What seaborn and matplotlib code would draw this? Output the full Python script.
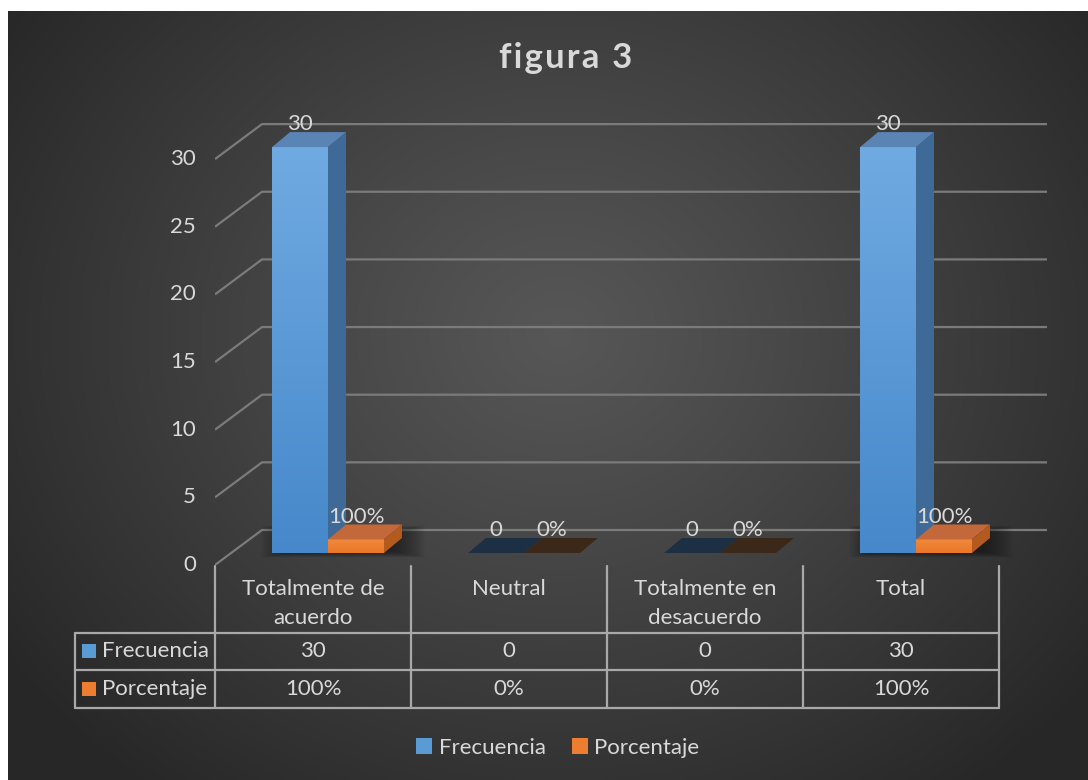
import numpy as np
import pandas as pd
import matplotlib
matplotlib.use("Agg")
import matplotlib.pyplot as plt
import seaborn as sns
from matplotlib.patches import Polygon, Rectangle, Patch
from matplotlib.lines import Line2D
import matplotlib.transforms as mtransforms

# ---------------- data ----------------
categorias = ["Totalmente de acuerdo", "Neutral", "Totalmente en desacuerdo", "Total"]
etiquetas_tabla = ["Totalmente de\nacuerdo", "Neutral", "Totalmente en\ndesacuerdo", "Total"]
series = ["Frecuencia", "Porcentaje"]
frecuencia = [30, 0, 0, 30]
porcentaje = [1.0, 0.0, 0.0, 1.0]
y_ticks = [0, 5, 10, 15, 20, 25, 30]
titulo = "figura 3"

colores = {"Frecuencia": "#5b9bd5", "Porcentaje": "#ed7d31"}
TXT = "#d9d9d9"
FS = 16

df = pd.DataFrame({
    "categoria": categorias * 2,
    "serie": [series[0]] * 4 + [series[1]] * 4,
    "valor": frecuencia + porcentaje,
})
etiq_frec = [f"{v:g}" for v in frecuencia]
etiq_porc = [f"{v:.0%}" for v in porcentaje]

sns.set_theme(style="dark")
plt.rcParams['font.family'] = ['Lato', 'DejaVu Sans']

W, H = 1088, 780
fig = plt.figure(figsize=(W / 100, H / 100), dpi=100, facecolor="white")

# pixel transform (origin top-left)
tpx = mtransforms.Affine2D().scale(1 / W, -1 / H).translate(0, 1) + fig.transFigure

# ---------------- background (radial gradient) ----------------
bg = fig.add_axes([8 / W, 0, 1 - 8 / W, 1 - 11 / H])
bg.set_axis_off()
gx, gy = np.meshgrid(np.linspace(0, 1, 400), np.linspace(0, 1, 300))
r = np.sqrt(((gx - 0.51) / 0.62) ** 2 + ((gy - 0.42) / 0.75) ** 2)
t = np.clip(r, 0, 1) ** 1.1
c_in, c_out = 0.34, 0.155
val = c_in * (1 - t) + c_out * t
img = np.dstack([val, val, val])
bg.imshow(img, extent=[0, 1, 0, 1], aspect="auto", origin="upper")
bg.set_xlim(0, 1)
bg.set_ylim(0, 1)

# ---------------- main axes ----------------
# data mapping: px_x = 328 + 196*x ; px_y = 553 - 13.53*y
PXU = 196.0
PYU = 13.53
X0, Y0 = 328.0, 553.0
def dx(px):
    return (px - X0) / PXU
def dy(py):
    return (Y0 - py) / PYU

ax = fig.add_axes([215 / W, 1 - 565 / H, (1047 - 215) / W, (565 - 100) / H])
ax.patch.set_alpha(0)

sns.barplot(data=df, x="categoria", y="valor", hue="serie", palette=colores,
            width=0.571, dodge=True, ax=ax, legend=False, saturation=1,
            linewidth=0, errorbar=None)

# wall / floor gridlines
front_shift = dy(565)      # front plane zero
back_shift = dy(530)       # back wall zero
x_front = dx(215)
x_back = dx(262)
x_right = dx(1047)
for v in y_ticks:
    ax.plot([x_front, x_back, x_right], [v + front_shift, v + back_shift, v + back_shift],
            color="#7b7b7b", lw=1.6, zorder=1, solid_capstyle="butt")
    ax.text(dx(196), v + front_shift, f"{v}", ha="right", va="center",
            color=TXT, fontsize=FS, clip_on=False)

# 3D faces
ddx = 18 / PXU
ddy = 15 / PYU
face = {
    "Frecuencia": dict(top="#5a84b4", side="#3f6996", zero="#1d2f42",
                       grad=("#70aae2", "#4688ca"), z=3),
    "Porcentaje": dict(top="#c3683a", side="#b45a1e", zero="#3c2818",
                       grad=("#f08a3e", "#ea7627"), z=4),
}
patches = list(ax.patches)
labels_all = etiq_frec + etiq_porc

# soft floor shadows beneath groups with visible bars
for i in range(len(categorias)):
    pb, po = patches[i], patches[i + 4]
    if pb.get_height() > 0 or po.get_height() > 0:
        xl = pb.get_x() - 0.06
        xr = po.get_x() + po.get_width() + ddx + 0.12
        sx, sy = np.meshgrid(np.linspace(-1, 1, 120), np.linspace(-1, 1, 40))
        a = np.clip(1 - np.maximum(np.abs(sx), np.abs(sy)) ** 3, 0, 1) * 0.6
        simg = np.zeros((40, 120, 4))
        simg[..., 3] = a
        ax.imshow(simg, extent=[xl, xr, -0.4, ddy + 0.9], aspect="auto", zorder=2)

for k, p in enumerate(patches):
    s = series[0] if k < 4 else series[1]
    f = face[s]
    x, w, h = p.get_x(), p.get_width(), p.get_height()
    p.set_zorder(f["z"])
    if h > 0:
        grad = np.linspace(0, 1, 100)[:, None]
        c1 = np.array(matplotlib.colors.to_rgb(f["grad"][0]))
        c2 = np.array(matplotlib.colors.to_rgb(f["grad"][1]))
        gimg = c1[None, None, :] * (1 - grad[..., None]) + c2[None, None, :] * grad[..., None]
        gimg = np.repeat(gimg, 2, axis=1)
        ax.imshow(gimg, extent=[x, x + w, 0, h], aspect="auto", origin="upper",
                  zorder=f["z"] + 0.01)
        side = Polygon([(x + w, 0), (x + w + ddx, ddy), (x + w + ddx, h + ddy), (x + w, h)],
                       closed=True, facecolor=f["side"], edgecolor="none", zorder=f["z"])
        ax.add_patch(side)
        topc = f["top"]
    else:
        topc = f["zero"]
    top = Polygon([(x, h), (x + ddx, h + ddy), (x + w + ddx, h + ddy), (x + w, h)],
                  closed=True, facecolor=topc, edgecolor="none", zorder=f["z"] + 0.02)
    ax.add_patch(top)
    ax.text(x + w / 2, h + 0.95, labels_all[k], ha="center", va="bottom",
            color=TXT, fontsize=FS, zorder=6, clip_on=False)

ax.set_xlim(dx(215), dx(1047))
ax.set_ylim(dy(565), dy(100))
ax.set_axis_off()

# ---------------- data table ----------------
tc = "#a9a9a9"
tlw = 1.6
for xv in [215, 411, 607, 803, 999]:
    fig.add_artist(Line2D([xv, xv], [566, 708], transform=tpx, color=tc, lw=tlw))
fig.add_artist(Line2D([75, 75], [633, 708], transform=tpx, color=tc, lw=tlw))
for yv in [633, 670, 708]:
    fig.add_artist(Line2D([75, 999], [yv, yv], transform=tpx, color=tc, lw=tlw))

for i, lab in enumerate(etiquetas_tabla):
    cx = 313 + 196 * i
    fig.text(cx, 579, lab, transform=tpx, ha="center", va="top", color=TXT,
             fontsize=FS, linespacing=1.55)
    fig.text(cx, 651, etiq_frec[i], transform=tpx, ha="center", va="center",
             color=TXT, fontsize=FS)
    fig.text(cx, 689, etiq_porc[i], transform=tpx, ha="center", va="center",
             color=TXT, fontsize=FS)

for j, (s, yc) in enumerate(zip(series, [651, 689])):
    fig.add_artist(Rectangle((82, yc - 7), 14, 14, transform=tpx,
                             facecolor=colores[s], edgecolor="none"))
    fig.text(102, yc, s, transform=tpx, ha="left", va="center", color=TXT, fontsize=FS)

# ---------------- title & legend ----------------
fig.text(566, 58, "\u200a".join(titulo), transform=tpx, ha="center", va="center", color=TXT,
         fontsize=25, fontweight="bold")

handles = [Patch(facecolor=colores[s], edgecolor="none", label=s) for s in series]
fig.legend(handles=handles, loc="center", bbox_to_anchor=(558 / W, 1 - 748 / H),
           ncol=2, frameon=False, labelcolor=TXT, fontsize=FS,
           handlelength=0.7, handleheight=0.7, handletextpad=0.3, columnspacing=1.2)

fig.savefig("out.png", dpi=100, facecolor="white")
